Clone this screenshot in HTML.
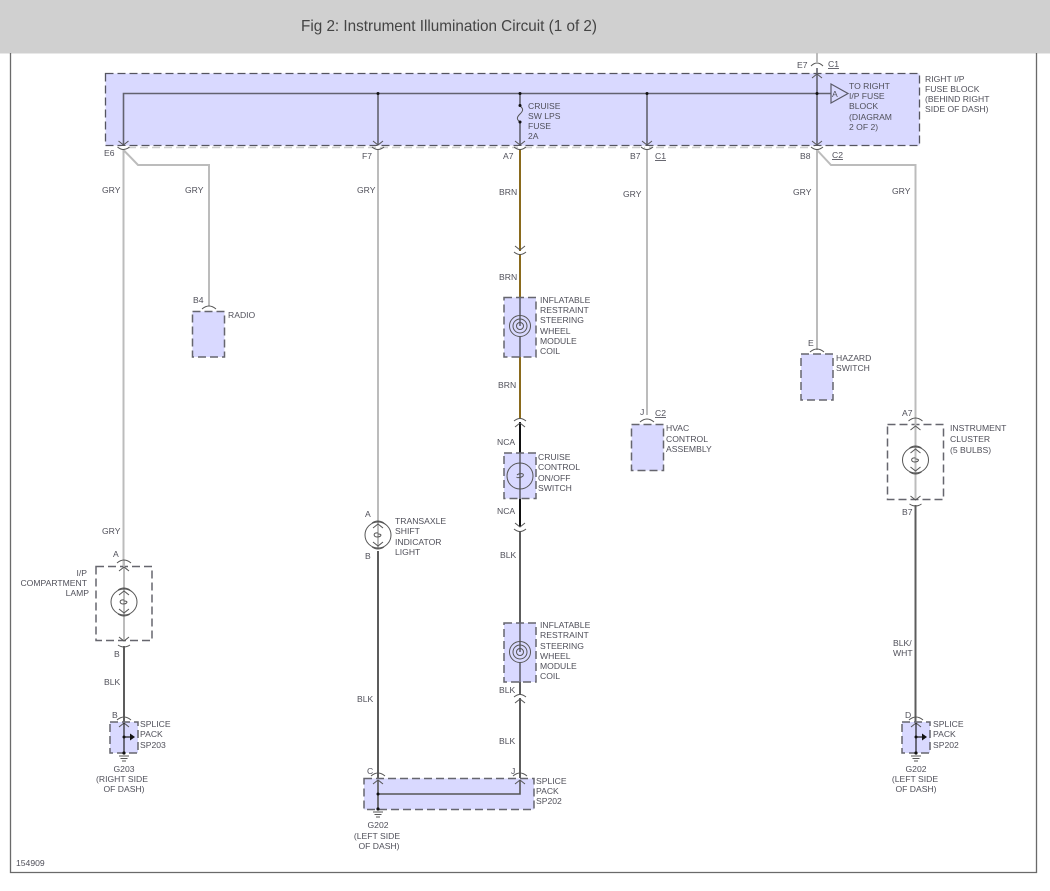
<!DOCTYPE html>
<html>
<head>
<meta charset="utf-8">
<style>
html,body{margin:0;padding:0;background:#fff;width:1050px;height:891px;overflow:hidden}
svg{display:block}
text{font-family:"Liberation Sans",sans-serif;font-size:8.6px;fill:#50505a}
.title{font-size:16px;fill:#444}
.box{fill:#d9d9ff;stroke:#66666e;stroke-width:1.5;stroke-dasharray:8 4}
.lbox{fill:none;stroke:#66666e;stroke-width:1.5;stroke-dasharray:8 4}
.w{fill:none;stroke-width:2}
.gry{stroke:#bcbcbc}
.brn{stroke:#8a6a1c}
.nca{stroke:#111}
.blk{stroke:#5c5c5c}
.thin{fill:none;stroke:#62626f;stroke-width:1.6}
.sym{fill:none;stroke:#555;stroke-width:1}
.ul{text-decoration:underline}
.m{text-anchor:middle}
.e{text-anchor:end}
</style>
</head>
<body>
<svg width="1050" height="891" viewBox="0 0 1050 891" xmlns="http://www.w3.org/2000/svg">
<defs>
  <g id="cdn"><rect x="-2" y="1" width="4" height="3" fill="#fff"/><path class="sym" d="M-5 -4 L0 0 L5 -4"/><path class="sym" d="M-6 2 Q0 7 6 2"/></g>
  <g id="cup"><rect x="-2" y="0" width="4" height="3" fill="#fff"/><path class="sym" d="M-6 2 Q0 -3 6 2"/><path class="sym" d="M-5 8 L0 4 L5 8"/></g>
  <g id="arc"><path class="sym" d="M-7 3 Q0 -3 7 3"/></g>
  <g id="lamp">
    <circle class="sym" r="13"/>
    <path class="sym" d="M-6 -12 Q0 -16 6 -12 M-5 -7 L0 -11 L5 -7 M-6 12 Q0 16 6 12 M-5 7 L0 11 L5 7"/>
    <path class="sym" d="M0 -2 C-5 -3 -5 2 -1 2 C3 2 5 -1 0 -1"/>
  </g>
  <g id="gnd"><path d="M-5 0 H5 M-3.5 2.5 H3.5 M-2 5 H2" stroke="#555" stroke-width="1" fill="none"/></g>
</defs>

<rect x="0" y="0" width="1050" height="53.5" fill="#d0d0d0"/>
<text class="title" x="301" y="31" textLength="296" lengthAdjust="spacingAndGlyphs">Fig 2: Instrument Illumination Circuit (1 of 2)</text>

<path d="M10.5 53 V872.5 H1036.5 V53" fill="none" stroke="#6a6a6a" stroke-width="1.3"/>

<!-- top feed -->
<path class="w gry" d="M817 53 V62"/>

<!-- fuse block -->
<rect x="105.5" y="73.5" width="814" height="72" fill="#d9d9ff"/>
<rect x="105.5" y="73.5" width="814" height="72" fill="none" stroke="#55555f" stroke-width="1.3" stroke-dasharray="8 4"/>
<path d="M128 147.5 H810" stroke="#cfcfcf" stroke-width="1.6" stroke-dasharray="8 4"/>

<path class="thin" d="M831 93.5 H123.5 V145"/>
<path class="thin" d="M378 94 V145"/>
<path class="thin" d="M520 94 V105 M520 122 V145"/>
<path class="sym" d="M520 106 C524 109 523 111 520 114 C517 117 516 119 520 122"/>
<path class="thin" d="M647 94 V145"/>
<path class="thin" d="M817 68 V145"/>
<g fill="#111">
  <circle cx="378" cy="93.5" r="1.5"/><circle cx="520" cy="93.5" r="1.5"/><circle cx="647" cy="93.5" r="1.5"/><circle cx="817" cy="93.5" r="1.5"/>
  <circle cx="520" cy="105.5" r="1.5"/><circle cx="520" cy="122" r="1.5"/>
</g>
<path d="M831 84 L848 93.5 L831 103 Z" fill="none" stroke="#5a5a68" stroke-width="1.2"/>
<text x="832" y="97" font-size="8">A</text>

<!-- GRY wires -->
<path class="w gry" d="M123.5 148 V566"/>
<path class="w gry" d="M123.5 150 L138 165 H209 V306"/>
<path class="w gry" d="M378 148 V548"/>
<path class="w gry" d="M647 148 V415"/>
<path class="w gry" d="M817 148 V350"/>
<path class="w gry" d="M817 150 L831 165 H915.5 V420"/>

<!-- Center wire -->
<path class="w brn" d="M520 148 V297"/>
<path class="w brn" d="M520 357 V419"/>
<path class="w nca" d="M520 421 V453"/>
<path class="w nca" d="M520 498 V527"/>
<path class="w blk" d="M520 530 V623"/>
<path class="w blk" d="M520 682 V778"/>

<!-- connectors on block -->
<use href="#cdn" x="123.5" y="145"/>
<use href="#cdn" x="378" y="145"/>
<use href="#cdn" x="520" y="145"/>
<use href="#cdn" x="647" y="145"/>
<use href="#cdn" x="817" y="145"/>
<path class="sym" d="M811 66 Q817 60 823 66"/>
<path class="sym" d="M812 78 L817 74 L822 78"/>

<!-- inline connectors -->
<use href="#cdn" x="520" y="250"/>
<use href="#cup" x="520" y="419"/>
<use href="#cdn" x="520" y="527"/>
<use href="#cup" x="520" y="695"/>

<!-- RADIO -->
<rect class="box" x="192.5" y="311.5" width="32" height="45.5"/>
<use href="#arc" x="209" y="306"/>

<!-- HVAC -->
<rect class="box" x="631.5" y="424.5" width="32" height="46"/>
<use href="#arc" x="647" y="419"/>

<!-- HAZARD -->
<rect class="box" x="801" y="354" width="32" height="46"/>
<use href="#arc" x="817" y="349"/>

<!-- Coil 1 -->
<rect class="box" x="504" y="297.5" width="32" height="59.5"/>
<path class="thin" d="M520 297 V326 M520 337 V357"/>
<g transform="translate(520,326)"><circle class="sym" r="10.5"/><circle class="sym" r="7"/><circle class="sym" r="3.5"/></g>

<!-- Cruise -->
<rect class="box" x="504" y="453" width="32" height="45.5"/>
<path class="thin" d="M520 453 V498"/>
<g transform="translate(520,476)"><circle class="sym" r="13"/><path class="sym" d="M-3 -1 C-1 -3 5 -3 3 0 C1 2 -4 2 -3 1"/></g>

<!-- Coil 2 -->
<rect class="box" x="504" y="623" width="32" height="59"/>
<path class="thin" d="M520 623 V652 M520 663 V682"/>
<g transform="translate(520,652)"><circle class="sym" r="10.5"/><circle class="sym" r="7"/><circle class="sym" r="3.5"/></g>

<!-- I/P lamp -->
<rect class="lbox" x="96" y="566.5" width="56" height="74"/>
<path class="w gry" d="M124 560 V641"/>
<use href="#arc" x="124" y="560"/>
<path class="sym" d="M119 571 L124 567 L129 571"/>
<path class="sym" d="M119 637 L124 641 L129 637 M118 645 Q124 649 130 645"/>
<use href="#lamp" x="124" y="602"/>
<path class="w blk" d="M124 646 V722"/>

<!-- Splice SP203 -->
<rect class="box" x="110" y="722" width="28" height="31"/>
<use href="#arc" x="124" y="717"/>
<path class="sym" d="M119 727 L124 723 L129 727"/>
<path d="M124 723 V753 M124 737 H131" stroke="#222" stroke-width="1.2" fill="none"/>
<path d="M130 733.5 L135 737 L130 740.5 Z" fill="#111"/>
<circle cx="124" cy="737" r="1.5" fill="#111"/><circle cx="124" cy="753" r="1.6" fill="#111"/>
<use href="#gnd" x="124" y="756"/>

<!-- Transaxle lamp -->
<use href="#lamp" x="378" y="535"/>
<path class="w blk" d="M378 551 V778"/>

<!-- Splice SP202 bottom -->
<rect class="box" x="364" y="778.5" width="170" height="31"/>
<use href="#arc" x="378" y="773"/>
<use href="#arc" x="520" y="773"/>
<path class="sym" d="M373 784 L378 780 L383 784 M515 784 L520 780 L525 784"/>
<path class="thin" d="M378 780 V810 M378 794 H520 V780" style="stroke:#555"/>
<circle cx="378" cy="794" r="1.5" fill="#111"/><circle cx="378" cy="809" r="1.6" fill="#111"/>
<use href="#gnd" x="378" y="812"/>

<!-- Instrument cluster -->
<rect class="lbox" x="887.5" y="424.5" width="56" height="75"/>
<path class="w gry" d="M915.5 418 V499"/>
<use href="#arc" x="915.5" y="418"/>
<path class="sym" d="M910.5 430 L915.5 426 L920.5 430"/>
<path class="sym" d="M910.5 496 L915.5 500 L920.5 496 M909.5 504 Q915.5 508 921.5 504"/>
<use href="#lamp" x="915.5" y="460"/>
<path class="w blk" d="M915.5 505 V722"/>

<!-- Splice SP202 right -->
<rect class="box" x="902" y="722" width="28" height="31"/>
<use href="#arc" x="916" y="717"/>
<path class="sym" d="M911 727 L916 723 L921 727"/>
<path d="M916 723 V753 M916 737 H923" stroke="#222" stroke-width="1.2" fill="none"/>
<path d="M922 733.5 L927 737 L922 740.5 Z" fill="#111"/>
<circle cx="916" cy="737" r="1.5" fill="#111"/><circle cx="916" cy="753" r="1.6" fill="#111"/>
<use href="#gnd" x="916" y="756"/>

<!-- Block labels -->
<text x="528" y="109">CRUISE</text><text x="528" y="119">SW LPS</text><text x="528" y="129">FUSE</text><text x="528" y="139">2A</text>
<text x="849" y="89">TO RIGHT</text><text x="849" y="99">I/P FUSE</text><text x="849" y="109">BLOCK</text><text x="849" y="120">(DIAGRAM</text><text x="849" y="130">2 OF 2)</text>
<text x="925" y="82">RIGHT I/P</text><text x="925" y="92">FUSE BLOCK</text><text x="925" y="102">(BEHIND RIGHT</text><text x="925" y="112">SIDE OF DASH)</text>

<text x="797" y="68">E7</text><text x="828" y="67" class="ul">C1</text>
<text x="104" y="156">E6</text><text x="362" y="159">F7</text><text x="503" y="159">A7</text><text x="630" y="159">B7</text><text x="655" y="159" class="ul">C1</text>
<text x="800" y="159">B8</text><text x="832" y="158" class="ul">C2</text>

<!-- wire labels -->
<text x="102" y="193">GRY</text><text x="185" y="193">GRY</text><text x="357" y="193">GRY</text><text x="499" y="195">BRN</text><text x="623" y="197">GRY</text><text x="793" y="195">GRY</text><text x="892" y="194">GRY</text>
<text x="499" y="280">BRN</text><text x="498" y="388">BRN</text>
<text x="497" y="445">NCA</text><text x="497" y="514">NCA</text>
<text x="500" y="558">BLK</text><text x="499" y="693">BLK</text><text x="499" y="744">BLK</text>
<text x="357" y="702">BLK</text>
<text x="102" y="534">GRY</text><text x="104" y="685">BLK</text>
<text x="893" y="646">BLK/</text><text x="893" y="656">WHT</text>

<!-- component labels -->
<text x="193" y="303">B4</text><text x="228" y="318">RADIO</text>
<text x="540" y="303">INFLATABLE</text><text x="540" y="313">RESTRAINT</text><text x="540" y="323">STEERING</text><text x="540" y="334">WHEEL</text><text x="540" y="344">MODULE</text><text x="540" y="354">COIL</text>
<text x="538" y="460">CRUISE</text><text x="538" y="470">CONTROL</text><text x="538" y="481">ON/OFF</text><text x="538" y="491">SWITCH</text>
<text x="540" y="628">INFLATABLE</text><text x="540" y="638">RESTRAINT</text><text x="540" y="649">STEERING</text><text x="540" y="659">WHEEL</text><text x="540" y="669">MODULE</text><text x="540" y="679">COIL</text>
<text x="640" y="415">J</text><text x="655" y="416" class="ul">C2</text>
<text x="666" y="431">HVAC</text><text x="666" y="442">CONTROL</text><text x="666" y="452">ASSEMBLY</text>
<text x="808" y="346">E</text><text x="836" y="361">HAZARD</text><text x="836" y="371">SWITCH</text>
<text x="902" y="416">A7</text><text x="950" y="431">INSTRUMENT</text><text x="950" y="442">CLUSTER</text><text x="950" y="453">(5 BULBS)</text><text x="902" y="515">B7</text>
<text x="365" y="517">A</text><text x="365" y="559">B</text>
<text x="395" y="524">TRANSAXLE</text><text x="395" y="534">SHIFT</text><text x="395" y="545">INDICATOR</text><text x="395" y="555">LIGHT</text>
<text x="113" y="557">A</text><text x="114" y="657">B</text>
<text x="87" y="576" class="e">I/P</text><text x="87" y="586" class="e">COMPARTMENT</text><text x="89" y="596" class="e">LAMP</text>
<text x="112" y="718">B</text>
<text x="140" y="727">SPLICE</text><text x="140" y="737">PACK</text><text x="140" y="748">SP203</text>
<text x="124" y="772" class="m">G203</text><text x="122" y="782" class="m">(RIGHT SIDE</text><text x="124" y="792" class="m">OF DASH)</text>
<text x="367" y="774">C</text><text x="511" y="774">J</text>
<text x="536" y="784">SPLICE</text><text x="536" y="794">PACK</text><text x="536" y="804">SP202</text>
<text x="378" y="828" class="m">G202</text><text x="377" y="839" class="m">(LEFT SIDE</text><text x="379" y="849" class="m">OF DASH)</text>
<text x="905" y="718">D</text>
<text x="933" y="727">SPLICE</text><text x="933" y="737">PACK</text><text x="933" y="748">SP202</text>
<text x="916" y="772" class="m">G202</text><text x="915" y="782" class="m">(LEFT SIDE</text><text x="916" y="792" class="m">OF DASH)</text>
<text x="16" y="866" font-size="8">154909</text>
</svg>
</body>
</html>
